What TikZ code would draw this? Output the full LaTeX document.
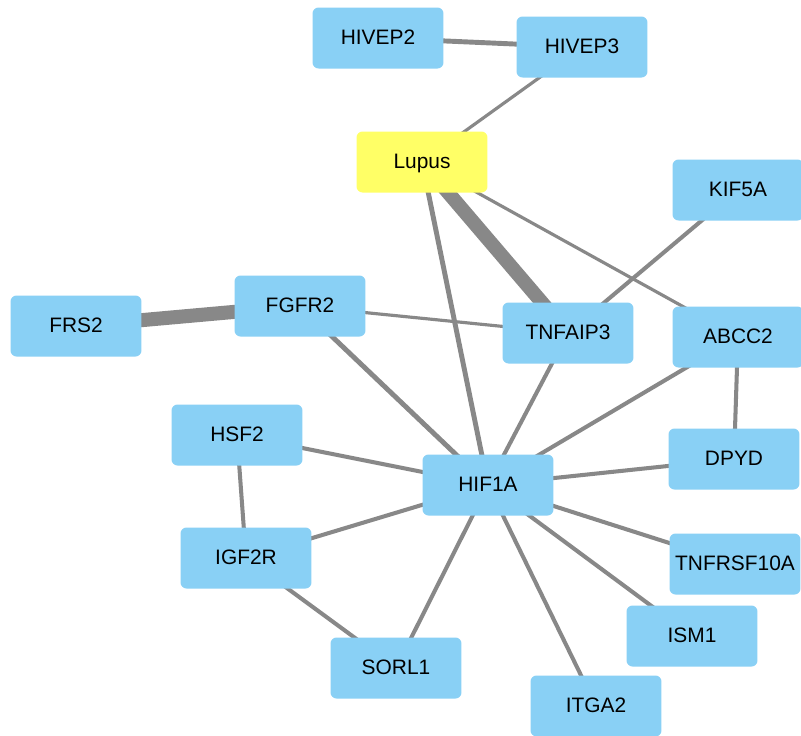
\documentclass[tikz,border=0pt]{standalone}
\usepackage{fontspec}
\setmainfont{Liberation Sans}
\usepackage{tikz}
\usetikzlibrary{positioning, backgrounds}

\definecolor{genefill}{RGB}{137,208,245}
\definecolor{lupusfill}{RGB}{255,255,102}
\definecolor{linkgray}{RGB}{136,136,136}

\begin{document}
\begin{tikzpicture}[x=0.02cm,y=-0.02cm,font=\fontsize{11.9pt}{13pt}\selectfont]

	\tikzset{gene st/.style={rectangle, rounded corners=0.12cm, draw=none,
			fill=genefill, text=black,
			minimum width=2.62cm, minimum height=1.22cm, inner sep=0pt,
			text height=0.72em, text depth=0pt},
		lupus st/.style={gene st, fill=lupusfill},
		link/.style={draw=linkgray, line width=2.3pt},
		thin link/.style={link, line width=1.8pt},
		wide link/.style={link, line width=2.8pt},
		heavy link/.style={link, line width=8pt, line cap=round}}

	\useasboundingbox (0,0) rectangle (801,735);

	\node[gene st] (HIVEP2) at (378,38) {HIVEP2};
	\node[gene st] (HIVEP3) at (582,47) {HIVEP3};
	\node[lupus st] (Lupus) at (422,162) {Lupus};
	\node[gene st] (KIF5A) at (738,190) {KIF5A};
	\node[gene st] (FRS2) at (76,326) {FRS2};
	\node[gene st] (FGFR2) at (300,306) {FGFR2};
	\node[gene st] (TNFAIP3) at (568,333) {TNFAIP3};
	\node[gene st] (ABCC2) at (738,337) {ABCC2};
	\node[gene st] (HSF2) at (237,435) {HSF2};
	\node[gene st] (HIF1A) at (488,485) {HIF1A};
	\node[gene st] (DPYD) at (734,459) {DPYD};
	\node[gene st] (IGF2R) at (246,558) {IGF2R};
	\node[gene st] (TNFRSF10A) at (735,564) {TNFRSF10A};
	\node[gene st] (ISM1) at (692,636) {ISM1};
	\node[gene st] (SORL1) at (396,668) {SORL1};
	\node[gene st] (ITGA2) at (596,706) {ITGA2};

	\begin{scope}[on background layer]
	\draw[link]
	(HIVEP2.center) edge[wide link] (HIVEP3.center)
	(HIVEP3.center) edge[thin link] (Lupus.center)
	(Lupus.center) edge[heavy link] (TNFAIP3.center)
	(Lupus.center) edge[wide link] (HIF1A.center)
	(Lupus.center) edge[thin link] (ABCC2.center)
	(KIF5A.center) edge (TNFAIP3.center)
	(FRS2.center) edge[heavy link, line cap=butt] (FGFR2.center)
	(FGFR2.center) edge[thin link] (TNFAIP3.center)
	(FGFR2.center) edge[wide link] (HIF1A.center)
	(TNFAIP3.center) edge (HIF1A.center)
	(ABCC2.center) edge (HIF1A.center)
	(ABCC2.center) edge (DPYD.center)
	(DPYD.center) edge (HIF1A.center)
	(HIF1A.center) edge (TNFRSF10A.center)
	(HIF1A.center) edge (ISM1.center)
	(HIF1A.center) edge (ITGA2.center)
	(HIF1A.center) edge (SORL1.center)
	(HIF1A.center) edge (IGF2R.center)
	(HIF1A.center) edge (HSF2.center)
	(HSF2.center) edge (IGF2R.center)
	(IGF2R.center) edge (SORL1.center);
	\end{scope}

\end{tikzpicture}
\end{document}
